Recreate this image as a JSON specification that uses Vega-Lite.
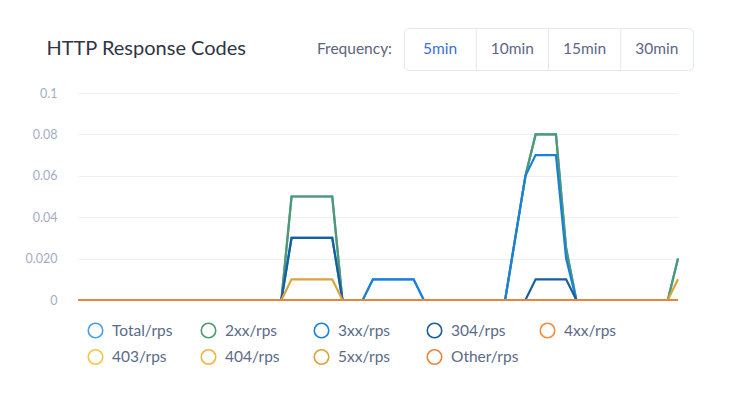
{
  "$schema": "https://vega.github.io/schema/vega-lite/v6.json",
  "background": "#ffffff",
  "padding": {"left": 25, "top": 27, "right": 10, "bottom": 10},
  "columns": 1,
  "align": "none",
  "spacing": 16,
  "concat": [
    {
      "hconcat": [
        {
          "width": 168,
          "height": 42,
          "data": {"values": [{"label": "HTTP Response Codes"}]},
          "mark": {"type": "text", "align": "right", "baseline": "middle", "font": "Lato", "fontSize": 20, "color": "#2f3542"},
          "encoding": {"text": {"field": "label"}, "x": {"value": "width"}}
        },
        {
          "width": 134,
          "height": 42,
          "data": {"values": [{"label": "Frequency:"}]},
          "mark": {"type": "text", "align": "right", "baseline": "middle", "font": "Lato", "fontSize": 15.5, "color": "#5b6478"},
          "encoding": {"text": {"field": "label"}, "x": {"value": "width"}}
        },
        {
          "width": 289,
          "height": 42,
          "view": {"stroke": "#e3e7ee", "strokeWidth": 1, "cornerRadius": 5, "fill": "#ffffff"},
          "data": {"values": [{"f": "5min"}, {"f": "10min"}, {"f": "15min"}, {"f": "30min"}]},
          "layer": [
            {
              "transform": [{"filter": "datum.f !== '5min'"}],
              "mark": {"type": "rule", "stroke": "#e3e7ee", "strokeWidth": 1},
              "encoding": {
                "x": {"field": "f", "type": "nominal", "sort": null, "bandPosition": 0,
                      "scale": {"domain": ["5min", "10min", "15min", "30min"], "paddingInner": 0, "paddingOuter": 0}, "axis": null}
              }
            },
            {
              "mark": {"type": "text", "baseline": "middle", "align": "center", "font": "Lato", "fontSize": 15.5},
              "encoding": {
                "x": {"field": "f", "type": "nominal", "sort": null,
                      "scale": {"domain": ["5min", "10min", "15min", "30min"], "paddingInner": 0, "paddingOuter": 0}, "axis": null},
                "text": {"field": "f"},
                "color": {"condition": {"test": "datum.f === '5min'", "value": "#3b6fd6"}, "value": "#5b6786"}
              }
            }
          ]
        }
      ],
      "spacing": 12,
      "bounds": "flush"
    },
    {
      "width": 600,
      "height": 207,
      "data": {"values": [
        {"t":0,"Total/rps":0,"2xx/rps":0,"3xx/rps":0,"304/rps":0,"4xx/rps":0,"403/rps":0,"404/rps":0,"5xx/rps":0,"Other/rps":0},
        {"t":1,"Total/rps":0,"2xx/rps":0,"3xx/rps":0,"304/rps":0,"4xx/rps":0,"403/rps":0,"404/rps":0,"5xx/rps":0,"Other/rps":0},
        {"t":2,"Total/rps":0,"2xx/rps":0,"3xx/rps":0,"304/rps":0,"4xx/rps":0,"403/rps":0,"404/rps":0,"5xx/rps":0,"Other/rps":0},
        {"t":3,"Total/rps":0,"2xx/rps":0,"3xx/rps":0,"304/rps":0,"4xx/rps":0,"403/rps":0,"404/rps":0,"5xx/rps":0,"Other/rps":0},
        {"t":4,"Total/rps":0,"2xx/rps":0,"3xx/rps":0,"304/rps":0,"4xx/rps":0,"403/rps":0,"404/rps":0,"5xx/rps":0,"Other/rps":0},
        {"t":5,"Total/rps":0,"2xx/rps":0,"3xx/rps":0,"304/rps":0,"4xx/rps":0,"403/rps":0,"404/rps":0,"5xx/rps":0,"Other/rps":0},
        {"t":6,"Total/rps":0,"2xx/rps":0,"3xx/rps":0,"304/rps":0,"4xx/rps":0,"403/rps":0,"404/rps":0,"5xx/rps":0,"Other/rps":0},
        {"t":7,"Total/rps":0,"2xx/rps":0,"3xx/rps":0,"304/rps":0,"4xx/rps":0,"403/rps":0,"404/rps":0,"5xx/rps":0,"Other/rps":0},
        {"t":8,"Total/rps":0,"2xx/rps":0,"3xx/rps":0,"304/rps":0,"4xx/rps":0,"403/rps":0,"404/rps":0,"5xx/rps":0,"Other/rps":0},
        {"t":9,"Total/rps":0,"2xx/rps":0,"3xx/rps":0,"304/rps":0,"4xx/rps":0,"403/rps":0,"404/rps":0,"5xx/rps":0,"Other/rps":0},
        {"t":10,"Total/rps":0,"2xx/rps":0,"3xx/rps":0,"304/rps":0,"4xx/rps":0,"403/rps":0,"404/rps":0,"5xx/rps":0,"Other/rps":0},
        {"t":11,"Total/rps":0,"2xx/rps":0,"3xx/rps":0,"304/rps":0,"4xx/rps":0,"403/rps":0,"404/rps":0,"5xx/rps":0,"Other/rps":0},
        {"t":12,"Total/rps":0,"2xx/rps":0,"3xx/rps":0,"304/rps":0,"4xx/rps":0,"403/rps":0,"404/rps":0,"5xx/rps":0,"Other/rps":0},
        {"t":13,"Total/rps":0,"2xx/rps":0,"3xx/rps":0,"304/rps":0,"4xx/rps":0,"403/rps":0,"404/rps":0,"5xx/rps":0,"Other/rps":0},
        {"t":14,"Total/rps":0,"2xx/rps":0,"3xx/rps":0,"304/rps":0,"4xx/rps":0,"403/rps":0,"404/rps":0,"5xx/rps":0,"Other/rps":0},
        {"t":15,"Total/rps":0,"2xx/rps":0,"3xx/rps":0,"304/rps":0,"4xx/rps":0,"403/rps":0,"404/rps":0,"5xx/rps":0,"Other/rps":0},
        {"t":16,"Total/rps":0,"2xx/rps":0,"3xx/rps":0,"304/rps":0,"4xx/rps":0,"403/rps":0,"404/rps":0,"5xx/rps":0,"Other/rps":0},
        {"t":17,"Total/rps":0,"2xx/rps":0,"3xx/rps":0,"304/rps":0,"4xx/rps":0,"403/rps":0,"404/rps":0,"5xx/rps":0,"Other/rps":0},
        {"t":18,"Total/rps":0,"2xx/rps":0,"3xx/rps":0,"304/rps":0,"4xx/rps":0,"403/rps":0,"404/rps":0,"5xx/rps":0,"Other/rps":0},
        {"t":19,"Total/rps":0,"2xx/rps":0,"3xx/rps":0,"304/rps":0,"4xx/rps":0,"403/rps":0,"404/rps":0,"5xx/rps":0,"Other/rps":0},
        {"t":20,"Total/rps":0,"2xx/rps":0,"3xx/rps":0,"304/rps":0,"4xx/rps":0,"403/rps":0,"404/rps":0,"5xx/rps":0,"Other/rps":0},
        {"t":21,"Total/rps":0.05,"2xx/rps":0.05,"3xx/rps":0.03,"304/rps":0.03,"4xx/rps":0,"403/rps":0,"404/rps":0,"5xx/rps":0.01,"Other/rps":0},
        {"t":22,"Total/rps":0.05,"2xx/rps":0.05,"3xx/rps":0.03,"304/rps":0.03,"4xx/rps":0,"403/rps":0,"404/rps":0,"5xx/rps":0.01,"Other/rps":0},
        {"t":23,"Total/rps":0.05,"2xx/rps":0.05,"3xx/rps":0.03,"304/rps":0.03,"4xx/rps":0,"403/rps":0,"404/rps":0,"5xx/rps":0.01,"Other/rps":0},
        {"t":24,"Total/rps":0.05,"2xx/rps":0.05,"3xx/rps":0.03,"304/rps":0.03,"4xx/rps":0,"403/rps":0,"404/rps":0,"5xx/rps":0.01,"Other/rps":0},
        {"t":25,"Total/rps":0.05,"2xx/rps":0.05,"3xx/rps":0.03,"304/rps":0.03,"4xx/rps":0,"403/rps":0,"404/rps":0,"5xx/rps":0.01,"Other/rps":0},
        {"t":26,"Total/rps":0,"2xx/rps":0,"3xx/rps":0,"304/rps":0,"4xx/rps":0,"403/rps":0,"404/rps":0,"5xx/rps":0,"Other/rps":0},
        {"t":27,"Total/rps":0,"2xx/rps":0,"3xx/rps":0,"304/rps":0,"4xx/rps":0,"403/rps":0,"404/rps":0,"5xx/rps":0,"Other/rps":0},
        {"t":28,"Total/rps":0,"2xx/rps":0,"3xx/rps":0,"304/rps":0,"4xx/rps":0,"403/rps":0,"404/rps":0,"5xx/rps":0,"Other/rps":0},
        {"t":29,"Total/rps":0.01,"2xx/rps":0,"3xx/rps":0.01,"304/rps":0,"4xx/rps":0,"403/rps":0,"404/rps":0,"5xx/rps":0,"Other/rps":0},
        {"t":30,"Total/rps":0.01,"2xx/rps":0,"3xx/rps":0.01,"304/rps":0,"4xx/rps":0,"403/rps":0,"404/rps":0,"5xx/rps":0,"Other/rps":0},
        {"t":31,"Total/rps":0.01,"2xx/rps":0,"3xx/rps":0.01,"304/rps":0,"4xx/rps":0,"403/rps":0,"404/rps":0,"5xx/rps":0,"Other/rps":0},
        {"t":32,"Total/rps":0.01,"2xx/rps":0,"3xx/rps":0.01,"304/rps":0,"4xx/rps":0,"403/rps":0,"404/rps":0,"5xx/rps":0,"Other/rps":0},
        {"t":33,"Total/rps":0.01,"2xx/rps":0,"3xx/rps":0.01,"304/rps":0,"4xx/rps":0,"403/rps":0,"404/rps":0,"5xx/rps":0,"Other/rps":0},
        {"t":34,"Total/rps":0,"2xx/rps":0,"3xx/rps":0,"304/rps":0,"4xx/rps":0,"403/rps":0,"404/rps":0,"5xx/rps":0,"Other/rps":0},
        {"t":35,"Total/rps":0,"2xx/rps":0,"3xx/rps":0,"304/rps":0,"4xx/rps":0,"403/rps":0,"404/rps":0,"5xx/rps":0,"Other/rps":0},
        {"t":36,"Total/rps":0,"2xx/rps":0,"3xx/rps":0,"304/rps":0,"4xx/rps":0,"403/rps":0,"404/rps":0,"5xx/rps":0,"Other/rps":0},
        {"t":37,"Total/rps":0,"2xx/rps":0,"3xx/rps":0,"304/rps":0,"4xx/rps":0,"403/rps":0,"404/rps":0,"5xx/rps":0,"Other/rps":0},
        {"t":38,"Total/rps":0,"2xx/rps":0,"3xx/rps":0,"304/rps":0,"4xx/rps":0,"403/rps":0,"404/rps":0,"5xx/rps":0,"Other/rps":0},
        {"t":39,"Total/rps":0,"2xx/rps":0,"3xx/rps":0,"304/rps":0,"4xx/rps":0,"403/rps":0,"404/rps":0,"5xx/rps":0,"Other/rps":0},
        {"t":40,"Total/rps":0,"2xx/rps":0,"3xx/rps":0,"304/rps":0,"4xx/rps":0,"403/rps":0,"404/rps":0,"5xx/rps":0,"Other/rps":0},
        {"t":41,"Total/rps":0,"2xx/rps":0,"3xx/rps":0,"304/rps":0,"4xx/rps":0,"403/rps":0,"404/rps":0,"5xx/rps":0,"Other/rps":0},
        {"t":42,"Total/rps":0,"2xx/rps":0,"3xx/rps":0,"304/rps":0,"4xx/rps":0,"403/rps":0,"404/rps":0,"5xx/rps":0,"Other/rps":0},
        {"t":43,"Total/rps":0.03,"2xx/rps":0.03,"3xx/rps":0.03,"304/rps":0,"4xx/rps":0,"403/rps":0,"404/rps":0,"5xx/rps":0,"Other/rps":0},
        {"t":44,"Total/rps":0.06,"2xx/rps":0.06,"3xx/rps":0.06,"304/rps":0,"4xx/rps":0,"403/rps":0,"404/rps":0,"5xx/rps":0,"Other/rps":0},
        {"t":45,"Total/rps":0.08,"2xx/rps":0.08,"3xx/rps":0.07,"304/rps":0.01,"4xx/rps":0,"403/rps":0,"404/rps":0,"5xx/rps":0,"Other/rps":0},
        {"t":46,"Total/rps":0.08,"2xx/rps":0.08,"3xx/rps":0.07,"304/rps":0.01,"4xx/rps":0,"403/rps":0,"404/rps":0,"5xx/rps":0,"Other/rps":0},
        {"t":47,"Total/rps":0.08,"2xx/rps":0.08,"3xx/rps":0.07,"304/rps":0.01,"4xx/rps":0,"403/rps":0,"404/rps":0,"5xx/rps":0,"Other/rps":0},
        {"t":48,"Total/rps":0.025,"2xx/rps":0.025,"3xx/rps":0.02,"304/rps":0.01,"4xx/rps":0,"403/rps":0,"404/rps":0,"5xx/rps":0,"Other/rps":0},
        {"t":49,"Total/rps":0,"2xx/rps":0,"3xx/rps":0,"304/rps":0,"4xx/rps":0,"403/rps":0,"404/rps":0,"5xx/rps":0,"Other/rps":0},
        {"t":50,"Total/rps":0,"2xx/rps":0,"3xx/rps":0,"304/rps":0,"4xx/rps":0,"403/rps":0,"404/rps":0,"5xx/rps":0,"Other/rps":0},
        {"t":51,"Total/rps":0,"2xx/rps":0,"3xx/rps":0,"304/rps":0,"4xx/rps":0,"403/rps":0,"404/rps":0,"5xx/rps":0,"Other/rps":0},
        {"t":52,"Total/rps":0,"2xx/rps":0,"3xx/rps":0,"304/rps":0,"4xx/rps":0,"403/rps":0,"404/rps":0,"5xx/rps":0,"Other/rps":0},
        {"t":53,"Total/rps":0,"2xx/rps":0,"3xx/rps":0,"304/rps":0,"4xx/rps":0,"403/rps":0,"404/rps":0,"5xx/rps":0,"Other/rps":0},
        {"t":54,"Total/rps":0,"2xx/rps":0,"3xx/rps":0,"304/rps":0,"4xx/rps":0,"403/rps":0,"404/rps":0,"5xx/rps":0,"Other/rps":0},
        {"t":55,"Total/rps":0,"2xx/rps":0,"3xx/rps":0,"304/rps":0,"4xx/rps":0,"403/rps":0,"404/rps":0,"5xx/rps":0,"Other/rps":0},
        {"t":56,"Total/rps":0,"2xx/rps":0,"3xx/rps":0,"304/rps":0,"4xx/rps":0,"403/rps":0,"404/rps":0,"5xx/rps":0,"Other/rps":0},
        {"t":57,"Total/rps":0,"2xx/rps":0,"3xx/rps":0,"304/rps":0,"4xx/rps":0,"403/rps":0,"404/rps":0,"5xx/rps":0,"Other/rps":0},
        {"t":58,"Total/rps":0,"2xx/rps":0,"3xx/rps":0,"304/rps":0,"4xx/rps":0,"403/rps":0,"404/rps":0,"5xx/rps":0,"Other/rps":0},
        {"t":59,"Total/rps":0.02,"2xx/rps":0.02,"3xx/rps":0,"304/rps":0,"4xx/rps":0,"403/rps":0,"404/rps":0,"5xx/rps":0.01,"Other/rps":0}
      ]},
      "transform": [
        {"fold": ["Total/rps", "2xx/rps", "3xx/rps", "304/rps", "4xx/rps", "403/rps", "404/rps", "5xx/rps", "Other/rps"], "as": ["series", "rps"]}
      ],
      "mark": {"type": "line", "strokeWidth": 2.2, "clip": false},
      "encoding": {
        "x": {"field": "t", "type": "quantitative", "scale": {"domain": [0, 59], "nice": false, "zero": false}, "axis": null},
        "y": {
          "field": "rps", "type": "quantitative",
          "scale": {"domain": [0, 0.1], "nice": false},
          "axis": {
            "values": [0, 0.02, 0.04, 0.06, 0.08, 0.1],
            "labelExpr": "datum.value === 0.02 ? '0.020' : format(datum.value, '~g')",
            "title": null, "domain": false, "ticks": false,
            "labelPadding": 21, "labelFont": "Lato", "labelFontSize": 12.5, "labelColor": "#a3aec3",
            "gridColor": "#eef0f3", "gridWidth": 1
          }
        },
        "color": {
          "field": "series", "type": "nominal",
          "scale": {
            "domain": ["Total/rps", "2xx/rps", "3xx/rps", "304/rps", "4xx/rps", "403/rps", "404/rps", "5xx/rps", "Other/rps"],
            "range": ["#4a9fe6", "#4e9a6d", "#1a80d8", "#175e9e", "#f08c3a", "#f7c545", "#f0b43a", "#d9a43a", "#e8853a"]
          },
          "legend": {
            "orient": "bottom", "direction": "horizontal", "columns": 5, "title": null,
            "symbolType": "circle", "symbolSize": 210, "symbolStrokeWidth": 1.6, "symbolFillColor": "#ffffff",
            "labelFont": "Lato", "labelFontSize": 15.5, "labelColor": "#5b6a88", "labelOffset": 8,
            "columnPadding": 18, "rowPadding": 5.5, "gridAlign": "all", "offset": 6, "padding": 9
          }
        }
      }
    }
  ],
  "config": {"view": {"stroke": null}, "font": "Lato"}
}
